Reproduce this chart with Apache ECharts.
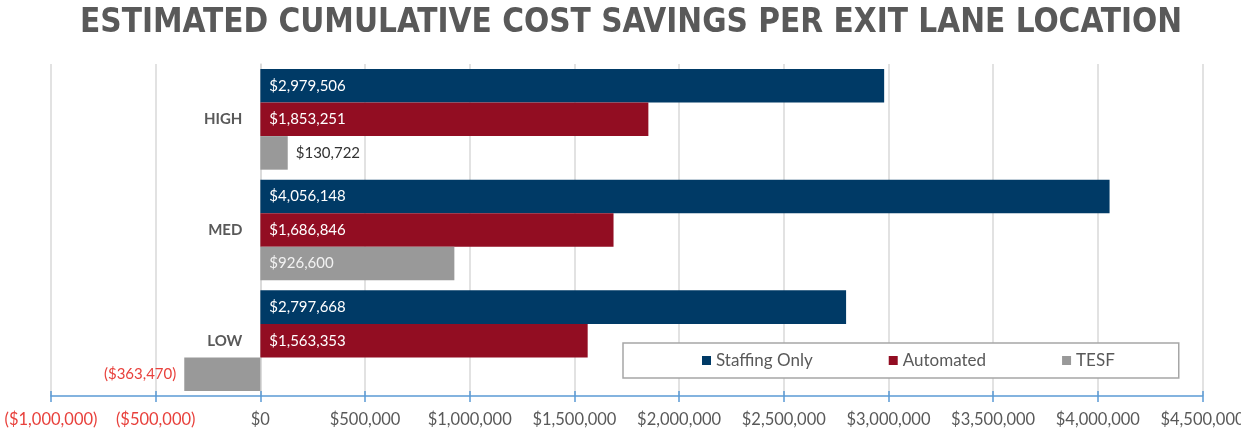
<!DOCTYPE html>
<html><head><meta charset="utf-8">
<script src="https://cdn.jsdelivr.net/npm/echarts@6/dist/echarts.min.js"></script>
<style>html,body{margin:0;padding:0;background:#fff}#c{width:1241px;height:431px}</style>
</head><body><div id="c"></div>
<script>
const categories = ['LOW', 'MED', 'HIGH'];
const staffingOnly = [2797668, 4056148, 2979506];
const automated = [1563353, 1686846, 1853251];
const tesf = [-363470, 926600, 130722];
const seriesNames = ['Staffing Only', 'Automated', 'TESF'];
const axisMin = -1000000, axisMax = 4500000, axisStep = 500000;

function money(v) {
  const s = '$' + Math.abs(v).toLocaleString('en-US');
  return v < 0 ? '(' + s + ')' : s;
}
const FONT = 'Lato';
const GL = 51, GR = 38.5;
const plotW = 1241 - GL - GR;
const zeroOffset = plotW * (0 - axisMin) / (axisMax - axisMin);
const chart = echarts.init(document.getElementById('c'));
const insideLbl = { show: true, position: 'insideLeft', color: '#fff', fontFamily: FONT, fontSize: 15, distance: 9, formatter: p => money(p.value) };
const tesfData = tesf.map(v => {
  if (v < 0) return { value: v, label: { position: 'left', color: '#e8413c', distance: 8 } };
  if (v < 300000) return { value: v, label: { position: 'right', color: '#333', distance: 8 } };
  return { value: v, label: { position: 'insideLeft', color: '#f2f2f2', distance: 9 } };
});
const axisBlue = '#5b9bd5';
chart.setOption({
  animation: false,
  title: { text: 'ESTIMATED CUMULATIVE COST SAVINGS PER EXIT LANE LOCATION', left: 75, top: 2,
    textStyle: { fontFamily: 'DejaVu Sans Condensed', fontWeight: 'bold', fontSize: 33, color: '#595959' } },
  grid: { left: GL, right: GR, top: 64, bottom: 35, outerBoundsMode: 'none', containLabel: false },
  legend: { data: seriesNames, left: 623, top: 343, padding: [9, 64, 9, 79], itemGap: 76,
    backgroundColor: '#fff', borderColor: '#a6a6a6', borderWidth: 1.5, icon: 'rect', itemWidth: 9, itemHeight: 9,
    textStyle: { fontFamily: FONT, fontSize: 17, color: '#595959' } },
  xAxis: [
    { type: 'value', min: axisMin, max: axisMax, interval: axisStep,
      axisLine: { show: true, lineStyle: { color: axisBlue, width: 1.5 } },
      axisTick: { show: true, length: 6, lineStyle: { color: axisBlue, width: 1.5 } },
      splitLine: { show: true, lineStyle: { color: '#d9d9d9', width: 1.5 } },
      axisLabel: { fontFamily: FONT, fontSize: 16.5, margin: 15, hideOverlap: false,
        color: v => v < 0 ? '#e8413c' : '#595959', formatter: v => money(v) } },
    { type: 'value', position: 'bottom', min: axisMin, max: axisMax, interval: axisStep,
      axisLine: { show: false }, axisLabel: { show: false }, splitLine: { show: false },
      axisTick: { show: true, inside: true, length: 5, lineStyle: { color: axisBlue, width: 1.5 } } }
  ],
  yAxis: { type: 'category', data: categories, offset: -zeroOffset,
    axisLine: { show: true, onZero: false, lineStyle: { color: '#d9d9d9', width: 1.5 } },
    axisTick: { show: false },
    axisLabel: { fontFamily: FONT, fontSize: 15, fontWeight: 'bold', color: '#595959', margin: 18 } },
  series: [
    { name: seriesNames[0], type: 'bar', data: staffingOnly, barGap: '0%', barCategoryGap: '9%',
      itemStyle: { color: '#003a66' }, label: insideLbl },
    { name: seriesNames[1], type: 'bar', data: automated, barGap: '0%', barCategoryGap: '9%',
      itemStyle: { color: '#920d22' }, label: insideLbl },
    { name: seriesNames[2], type: 'bar', data: tesfData, barGap: '0%', barCategoryGap: '9%',
      itemStyle: { color: '#999999' }, label: Object.assign({}, insideLbl) }
  ]
});
</script></body></html>
